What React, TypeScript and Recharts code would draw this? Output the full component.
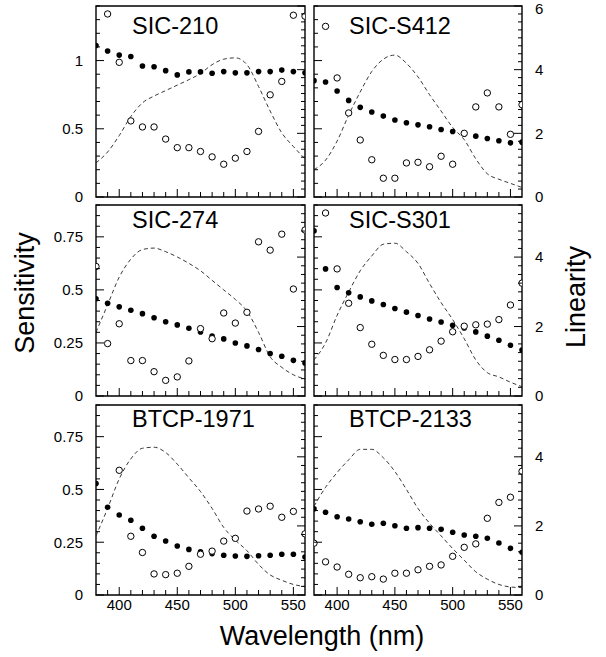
import React from 'react';
import { ComposedChart, Line, Scatter, XAxis, YAxis, ReferenceArea } from 'recharts';

const WAVELENGTHS = [380, 390, 400, 410, 420, 430, 440, 450, 460, 470, 480, 490, 500, 510, 520, 530, 540, 550, 560];
const X_TICKS = [390, 400, 410, 420, 430, 440, 450, 460, 470, 480, 490, 500, 510, 520, 530, 540, 550];
const X_MAJOR = [400, 450, 500, 550];

const TITLES = ['SIC-210', 'SIC-S412', 'SIC-274', 'SIC-S301', 'BTCP-1971', 'BTCP-2133'];

const SIC210_FILLED = [1.11, 1.07, 1.04, 1.03, 0.96, 0.955, 0.926, 0.895, 0.917, 0.917, 0.907, 0.919, 0.91, 0.91, 0.919, 0.919, 0.93, 0.919, 0.91];
const SIC210_OPEN = [null, 5.75, 4.23, 2.39, 2.2, 2.2, 1.82, 1.55, 1.55, 1.43, 1.26, 1.03, 1.22, 1.43, 2.06, 3.21, 3.63, 5.71, 5.68];
const SIC210_DASH = [0.25, 0.33, 0.45, 0.59, 0.69, 0.74, 0.78, 0.82, 0.86, 0.905, 0.97, 1.01, 1.02, 0.97, 0.81, 0.63, 0.47, 0.37, 0.28];

const SICS412_FILLED = [0.853, 0.843, 0.777, 0.708, 0.657, 0.623, 0.593, 0.564, 0.544, 0.529, 0.515, 0.495, 0.48, 0.461, 0.446, 0.429, 0.412, 0.397, 0.402];
const SICS412_OPEN = [6.1, 5.36, 3.74, 2.64, 1.79, 1.17, 0.59, 0.59, 1.07, 1.09, 0.95, 1.28, 1.03, 2.0, 2.83, 3.27, 2.83, 1.97, 2.9];
const SICS412_DASH = [0.2, 0.27, 0.41, 0.6, 0.77, 0.92, 1.01, 1.04, 0.98, 0.88, 0.75, 0.63, 0.51, 0.42, 0.28, 0.17, 0.13, 0.1, 0.07];

const SIC274_FILLED = [0.458, 0.437, 0.42, 0.404, 0.388, 0.369, 0.35, 0.335, 0.319, 0.302, 0.282, 0.269, 0.25, 0.236, 0.219, 0.2, 0.187, 0.168, 0.156];
const SIC274_OPEN = [3.73, 1.51, 2.08, 1.02, 1.02, 0.7, 0.45, 0.55, 1.01, 1.94, 1.65, 2.39, 2.1, 2.41, 4.44, 4.2, 4.66, 3.08, 4.78];
const SIC274_DASH = [0.3, 0.43, 0.56, 0.645, 0.69, 0.697, 0.68, 0.655, 0.625, 0.59, 0.545, 0.5, 0.455, 0.4, 0.3, 0.185, 0.135, 0.1, 0.08];

const SICS301_FILLED = [0.778, 0.599, 0.511, 0.486, 0.467, 0.448, 0.431, 0.412, 0.395, 0.379, 0.363, 0.349, 0.333, 0.321, 0.302, 0.282, 0.263, 0.239, 0.217];
const SICS301_OPEN = [null, 5.27, 3.66, 2.67, 1.97, 1.49, 1.17, 1.05, 1.05, 1.14, 1.33, 1.58, 1.85, 2.01, 2.05, 2.07, 2.2, 2.62, 3.25];
const SICS301_DASH = [0.17, 0.25, 0.38, 0.49, 0.59, 0.66, 0.715, 0.72, 0.68, 0.625, 0.53, 0.44, 0.36, 0.27, 0.17, 0.11, 0.09, 0.065, 0.044];

const BTCP1971_FILLED = [0.528, 0.416, 0.379, 0.354, 0.316, 0.278, 0.256, 0.232, 0.216, 0.205, 0.196, 0.188, 0.185, 0.183, 0.186, 0.188, 0.193, 0.193, 0.18];
const BTCP1971_OPEN = [null, null, 3.61, 1.7, 1.23, 0.61, 0.59, 0.63, 0.83, 1.18, 1.27, 1.56, 1.64, 2.43, 2.49, 2.57, 2.25, 2.42, 1.77];
const BTCP1971_DASH = [0.28, 0.41, 0.55, 0.645, 0.695, 0.7, 0.675, 0.62, 0.555, 0.49, 0.41, 0.32, 0.26, 0.21, 0.145, 0.095, 0.07, 0.05, 0.04];

const BTCP2133_FILLED = [0.408, 0.392, 0.371, 0.36, 0.347, 0.335, 0.34, 0.328, 0.316, 0.319, 0.316, 0.311, 0.297, 0.284, 0.278, 0.269, 0.246, 0.221, 0.202];
const BTCP2133_OPEN = [1.5, 0.96, 0.81, 0.6, 0.5, 0.53, 0.46, 0.63, 0.63, 0.73, 0.83, 0.87, 1.12, 1.38, 1.48, 2.22, 2.68, 2.83, 3.58];
const BTCP2133_DASH = [0.42, 0.51, 0.58, 0.64, 0.69, 0.69, 0.65, 0.585, 0.5, 0.41, 0.34, 0.28, 0.22, 0.165, 0.11, 0.075, 0.05, 0.038, 0.035];

const ROW1_LEFT_MAJOR = [0, 0.5, 1];
const ROW1_RIGHT_MAJOR = [0, 2, 4, 6];
const ROW23_LEFT_MAJOR = [0, 0.25, 0.5, 0.75];
const ROW23_RIGHT_MAJOR = [0, 2, 4];

const FONT = '"Liberation Sans", Arial, Helvetica, sans-serif';

function stepTicks(max: number, step: number): number[] {
  const out: number[] = [];
  const n = Math.round(max / step);
  for (let i = 0; i <= n; i++) out.push(Math.round(i * step * 10000) / 10000);
  return out;
}

const isIn = (arr: number[], v: number) => arr.some((m) => Math.abs(m - v) < 1e-6);

const makeYTick = (side: 'left' | 'right', majors: number[], showLabel: boolean) => (props: any) => {
  const { x, y, payload } = props;
  const v = payload.value;
  const major = isIn(majors, v);
  const len = major ? 8 : 4;
  const dir = side === 'left' ? 1 : -1;
  const baseline = Math.max(y + 5.4, 14);
  return (
    <g>
      <line x1={x} y1={y} x2={x + dir * len} y2={y} stroke="#000" strokeWidth={1} />
      {showLabel && major ? (
        <text x={x - dir * 13} y={baseline} textAnchor={side === 'left' ? 'end' : 'start'} fontSize={15} fontFamily={FONT} fill="#000">
          {String(v)}
        </text>
      ) : null}
    </g>
  );
};

const makeXTick = (showLabel: boolean) => (props: any) => {
  const { x, y, payload } = props;
  const v = payload.value;
  const major = isIn(X_MAJOR, v);
  const len = major ? 8 : 5;
  return (
    <g>
      <line x1={x} y1={y} x2={x} y2={y - len} stroke="#000" strokeWidth={1} />
      {showLabel && major ? (
        <text x={x} y={y + 15} textAnchor="middle" fontSize={15} fontFamily={FONT} fill="#000">
          {String(v)}
        </text>
      ) : null}
    </g>
  );
};

const FilledDot = (props: any) => {
  if (props.cx == null || props.cy == null || Number.isNaN(props.cy)) return null;
  return <circle cx={props.cx} cy={props.cy} r={2.8} fill="#000" />;
};
const OpenDot = (props: any) => {
  if (props.cx == null || props.cy == null || Number.isNaN(props.cy)) return null;
  return <circle cx={props.cx} cy={props.cy} r={3.2} fill="#fff" stroke="#000" strokeWidth={1} />;
};

type PanelProps = {
  filled: (number | null)[];
  open: (number | null)[];
  dash: number[];
  col: 0 | 1;
  row: 0 | 1 | 2;
};

function Panel({ filled, open, dash, col, row }: PanelProps) {
  const leftMax = row === 0 ? 1.4 : 0.9;
  const rightMax = row === 0 ? 6 : 5.5;
  const leftMajor = row === 0 ? ROW1_LEFT_MAJOR : ROW23_LEFT_MAJOR;
  const rightMajor = row === 0 ? ROW1_RIGHT_MAJOR : ROW23_RIGHT_MAJOR;
  const leftTicks = stepTicks(leftMax, row === 0 ? 0.1 : 0.05);
  const rightTicks = stepTicks(rightMax, 0.25);

  const lineData = WAVELENGTHS.map((wl, i) => ({ wl, dash: dash[i] }));
  const filledData = WAVELENGTHS.map((wl, i) => ({ wl, v: filled[i] })).filter((d) => d.v != null);
  const openData = WAVELENGTHS.map((wl, i) => ({ wl, v: open[i] })).filter((d) => d.v != null);

  const tops = [0, 199, 399];
  const heights = [205, 205, 226];
  const xAxisH = row === 2 ? 30 : 8;
  const left = col === 0 ? 0 : 305;
  const width = col === 0 ? 310 : 301;
  const lw = col === 0 ? 96 : 9;
  const rw = col === 0 ? 5 : 84;

  return (
    <div style={{ position: 'absolute', left, top: tops[row], width, height: heights[row] }}>
      <ComposedChart width={width} height={heights[row]} data={lineData} margin={{ top: 6, right: 0, bottom: 0, left: 0 }}>
        <XAxis
          dataKey="wl"
          type="number"
          domain={[380, 560]}
          ticks={X_TICKS}
          interval={0}
          allowDataOverflow
          height={xAxisH}
          tickSize={0}
          tickMargin={0}
          tickLine={false}
          axisLine={false}
          tick={makeXTick(row === 2)}
        />
        <YAxis
          yAxisId="l"
          orientation="left"
          type="number"
          domain={[0, leftMax]}
          ticks={leftTicks}
          interval={0}
          allowDataOverflow
          width={lw}
          tickSize={0}
          tickMargin={0}
          tickLine={false}
          axisLine={false}
          tick={makeYTick('left', leftMajor, col === 0)}
        />
        <YAxis
          yAxisId="r"
          orientation="right"
          type="number"
          domain={[0, rightMax]}
          ticks={rightTicks}
          interval={0}
          allowDataOverflow
          width={rw}
          tickSize={0}
          tickMargin={0}
          tickLine={false}
          axisLine={false}
          tick={makeYTick('right', rightMajor, col === 1)}
        />
        <Line
          yAxisId="l"
          type="monotone"
          dataKey="dash"
          stroke="#222"
          strokeWidth={0.9}
          strokeDasharray="4 3"
          dot={false}
          activeDot={false}
          isAnimationActive={false}
        />
        <Scatter yAxisId="l" data={filledData} dataKey="v" shape={FilledDot} isAnimationActive={false} />
        <Scatter yAxisId="r" data={openData} dataKey="v" shape={OpenDot} isAnimationActive={false} />
        <ReferenceArea
          yAxisId="l"
          x1={380}
          x2={560}
          y1={0}
          y2={leftMax}
          fill="none"
          fillOpacity={0}
          stroke="#000"
          strokeWidth={1.4}
          ifOverflow="visible"
        />
      </ComposedChart>
    </div>
  );
}

export default function App() {
  const titleY = [34, 228, 427];
  return (
    <div style={{ position: 'absolute', left: 0, top: 0, width: 606, height: 657, background: '#fff' }}>
      <Panel filled={SIC210_FILLED} open={SIC210_OPEN} dash={SIC210_DASH} col={0} row={0} />
      <Panel filled={SICS412_FILLED} open={SICS412_OPEN} dash={SICS412_DASH} col={1} row={0} />
      <Panel filled={SIC274_FILLED} open={SIC274_OPEN} dash={SIC274_DASH} col={0} row={1} />
      <Panel filled={SICS301_FILLED} open={SICS301_OPEN} dash={SICS301_DASH} col={1} row={1} />
      <Panel filled={BTCP1971_FILLED} open={BTCP1971_OPEN} dash={BTCP1971_DASH} col={0} row={2} />
      <Panel filled={BTCP2133_FILLED} open={BTCP2133_OPEN} dash={BTCP2133_DASH} col={1} row={2} />
      <svg width={606} height={657} style={{ position: 'absolute', left: 0, top: 0, pointerEvents: 'none' }}>
        {TITLES.map((t, i) => (
          <text key={t} x={i % 2 === 0 ? 132 : 349} y={titleY[Math.floor(i / 2)]} fontSize={23.5} fontFamily={FONT} fill="#000">
            {t}
          </text>
        ))}
        <text transform="translate(34,293) rotate(-90)" textAnchor="middle" fontSize={27} fontFamily={FONT} fill="#000">
          Sensitivity
        </text>
        <text transform="translate(585,297) rotate(-90)" textAnchor="middle" fontSize={27} fontFamily={FONT} fill="#000">
          Linearity
        </text>
        <text x={322} y={645} textAnchor="middle" fontSize={27} fontFamily={FONT} fill="#000">
          Wavelength (nm)
        </text>
      </svg>
    </div>
  );
}
